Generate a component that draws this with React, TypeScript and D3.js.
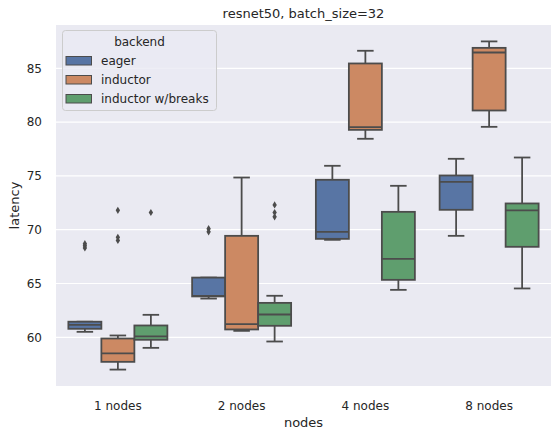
import React, { useEffect } from 'react';
import * as d3 from 'd3';

const nodes = ['1 nodes', '2 nodes', '4 nodes', '8 nodes'];
const backends = ['eager', 'inductor', 'inductor w/breaks'];
const backendColors = ['#5875A4', '#CC8963', '#5F9E6E'];

// per node: [lower whisker, q1, median, q3, upper whisker]
const eagerStats = [
  [60.51, 60.79, 61.15, 61.45, 61.45],
  [63.6, 63.8, 63.85, 65.55, 65.55],
  [69.06, 69.15, 69.8, 74.64, 75.94],
  [69.43, 71.85, 74.45, 75.04, 76.59],
];
const inductorStats = [
  [57.0, 57.72, 58.5, 59.89, 60.17],
  [60.6, 60.73, 61.22, 69.43, 74.85],
  [78.45, 79.28, 79.53, 85.45, 86.63],
  [79.56, 81.08, 86.47, 86.9, 87.5],
];
const breaksStats = [
  [59.02, 59.77, 60.08, 61.1, 62.09],
  [59.61, 61.07, 62.12, 63.2, 63.86],
  [64.41, 65.34, 67.29, 71.66, 74.08],
  [64.54, 68.41, 71.79, 72.44, 76.71],
];

const eagerOutliers = [[68.3, 68.5, 68.7], [69.8, 70.1], [], []];
const inductorOutliers = [[69.0, 69.3, 71.8], [], [], []];
const breaksOutliers = [[71.6], [71.2, 71.6, 72.3], [], []];

const allStats = [eagerStats, inductorStats, breaksStats];
const allOutliers = [eagerOutliers, inductorOutliers, breaksOutliers];

const W = 559;
const H = 438;
const margin = { left: 56, right: 8, top: 25, bottom: 52 };
const lineColor = '#4C4C4C';
const textColor = '#262626';
const font = '"DejaVu Sans", sans-serif';

export default function App() {
  useEffect(() => {
    document.body.style.margin = '0';
  }, []);

  const values = d3.merge<number>([
    ...allStats.map(s => d3.merge<number>(s)),
    ...allOutliers.map(o => d3.merge<number>(o)),
  ]);
  const [lo, hi] = d3.extent(values) as [number, number];
  const pad = (hi - lo) * 0.05;

  const x = d3
    .scaleBand<string>()
    .domain(nodes)
    .range([margin.left, W - margin.right])
    .padding(0);
  const hue = d3
    .scaleBand<string>()
    .domain(backends)
    .range([x.bandwidth() * 0.1, x.bandwidth() * 0.9])
    .padding(0);
  const y = d3
    .scaleLinear()
    .domain([lo - pad, hi + pad])
    .range([H - margin.bottom, margin.top]);

  const ticks = y.ticks(6);
  const bw = hue.bandwidth();
  const capW = bw / 2;
  const plotW = W - margin.left - margin.right;
  const plotH = H - margin.top - margin.bottom;

  return (
    <svg width={W} height={H} style={{ display: 'block', fontFamily: font }}>
      <rect x={margin.left} y={margin.top} width={plotW} height={plotH} fill="#EAEAF2" />
      {ticks.map(t => (
        <g key={t}>
          <line x1={margin.left} x2={W - margin.right} y1={y(t)} y2={y(t)} stroke="#fff" strokeWidth={1.2} />
          <text x={margin.left - 14} y={y(t)} dy="0.35em" textAnchor="end" fontSize={12} fill={textColor}>
            {t}
          </text>
        </g>
      ))}

      {nodes.map(n => (
        <text key={n} x={(x(n) as number) + x.bandwidth() / 2} y={410} textAnchor="middle" fontSize={12} fill={textColor}>
          {n}
        </text>
      ))}

      {backends.map((b, bi) =>
        nodes.map((n, ni) => {
          const [wl, q1, med, q3, wh] = allStats[bi][ni];
          const cx = (x(n) as number) + (hue(b) as number) + bw / 2;
          const left = cx - bw / 2;
          return (
            <g key={b + n} stroke={lineColor} strokeWidth={1.8}>
              <line x1={cx} x2={cx} y1={y(q1)} y2={y(wl)} />
              <line x1={cx} x2={cx} y1={y(q3)} y2={y(wh)} />
              <line x1={cx - capW / 2} x2={cx + capW / 2} y1={y(wl)} y2={y(wl)} />
              <line x1={cx - capW / 2} x2={cx + capW / 2} y1={y(wh)} y2={y(wh)} />
              <rect x={left} y={y(q3)} width={bw} height={y(q1) - y(q3)} fill={backendColors[bi]} />
              <line x1={left} x2={left + bw} y1={y(med)} y2={y(med)} />
              {allOutliers[bi][ni].map((v, k) => (
                <path
                  key={k}
                  d="M0,-3.6L2.2,0L0,3.6L-2.2,0Z"
                  transform={`translate(${cx},${y(v)})`}
                  fill={lineColor}
                  stroke="none"
                />
              ))}
            </g>
          );
        })
      )}

      <text x={margin.left + plotW / 2} y={18} textAnchor="middle" fontSize={13} fill={textColor}>
        resnet50, batch_size=32
      </text>
      <text x={margin.left + plotW / 2} y={427} textAnchor="middle" fontSize={13} fill={textColor}>
        nodes
      </text>
      <text
        transform={`translate(19,${margin.top + plotH / 2}) rotate(-90)`}
        textAnchor="middle"
        fontSize={13}
        fill={textColor}
      >
        latency
      </text>

      <g>
        <rect x={62.5} y={30.5} width={154} height={80} rx={3} fill="#EAEAF2" fillOpacity={0.8} stroke="#CCCCCC" />
        <text x={139.5} y={46} textAnchor="middle" fontSize={12} fill={textColor}>
          backend
        </text>
        {backends.map((b, i) => (
          <g key={b} transform={`translate(0,${60.5 + i * 19})`}>
            <rect x={66} y={-4} width={25.5} height={8.5} fill={backendColors[i]} stroke={lineColor} strokeWidth={1} />
            <text x={101} y={0} dy="0.35em" fontSize={12} fill={textColor}>
              {b}
            </text>
          </g>
        ))}
      </g>
    </svg>
  );
}
